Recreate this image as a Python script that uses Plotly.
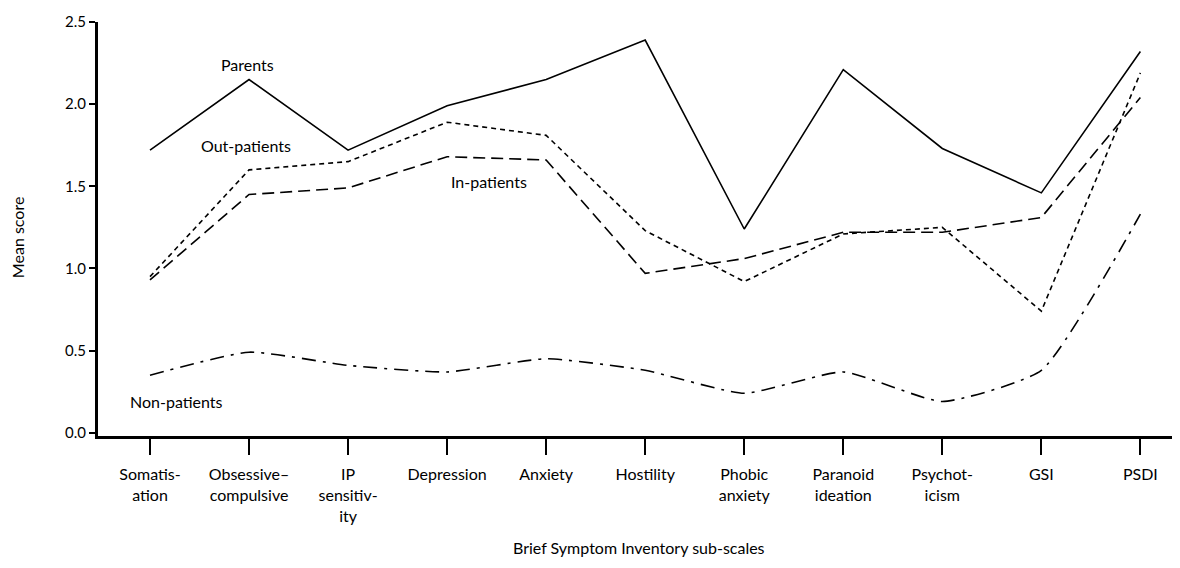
import plotly.graph_objects as go

categories = ["Somatis-<br>ation", "Obsessive–<br>compulsive", "IP<br>sensitiv-<br>ity", "Depression",
              "Anxiety", "Hostility", "Phobic<br>anxiety", "Paranoid<br>ideation", "Psychot-<br>icism",
              "GSI", "PSDI"]
parents = [1.72, 2.15, 1.72, 1.99, 2.15, 2.39, 1.24, 2.21, 1.73, 1.46, 2.32]
out_patients = [0.95, 1.60, 1.65, 1.89, 1.81, 1.23, 0.92, 1.21, 1.25, 0.74, 2.19]
in_patients = [0.93, 1.45, 1.49, 1.68, 1.66, 0.97, 1.06, 1.22, 1.22, 1.31, 2.04]
non_patients = [0.35, 0.49, 0.41, 0.37, 0.45, 0.38, 0.24, 0.37, 0.19, 0.38, 1.33]
y_ticks = [0.0, 0.5, 1.0, 1.5, 2.0, 2.5]

x = list(range(len(categories)))
FONT = "Lato"

fig = go.Figure()
fig.add_trace(go.Scatter(x=x, y=parents, mode="lines", line=dict(color="black", width=1.6)))
fig.add_trace(go.Scatter(x=x, y=out_patients, mode="lines",
                         line=dict(color="black", width=1.6, dash="5px,4px")))
fig.add_trace(go.Scatter(x=x, y=in_patients, mode="lines",
                         line=dict(color="black", width=1.6, dash="12px,6px")))
fig.add_trace(go.Scatter(x=x, y=non_patients, mode="lines", line_shape="spline",
                         line=dict(color="black", width=1.6, dash="14px,7px,3px,7px", smoothing=0.5)))

for txt, ax, ay in [("Parents", 0.98, 2.24), ("Out-patients", 0.97, 1.75),
                    ("In-patients", 3.42, 1.53), ("Non-patients", 0.27, 0.19)]:
    fig.add_annotation(x=ax, y=ay, text=txt, showarrow=False,
                       font=dict(family=FONT, size=16, color="black"))

fig.add_annotation(text="Mean score", xref="paper", yref="paper", x=-0.075, y=0.48,
                   textangle=-90, showarrow=False, xanchor="center",
                   font=dict(family=FONT, size=16, color="black"))
fig.add_annotation(text="Brief Symptom Inventory sub-scales", xref="paper", yref="paper",
                   x=0.5, y=-0.27, showarrow=False, yanchor="middle",
                   font=dict(family=FONT, size=16, color="black"))

fig.update_layout(
    width=1172, height=560,
    margin=dict(l=90, r=0, t=14, b=132),
    plot_bgcolor="white", paper_bgcolor="white",
    showlegend=False,
    font=dict(family=FONT, size=16, color="black"),
)
fig.update_xaxes(range=[-0.525, 10.4], tickmode="array", tickvals=x, ticktext=categories,
                 showline=True, linecolor="black", linewidth=3, ticks="outside",
                 ticklen=16, tickwidth=1.5, tickcolor="black", showgrid=False, zeroline=False,
                 ticklabelstandoff=6, tickfont=dict(family=FONT, size=16))
fig.update_yaxes(range=[-0.02, 2.5], tickmode="array", tickvals=y_ticks,
                 ticktext=[f"{v:.1f}" for v in y_ticks],
                 showline=True, linecolor="black", linewidth=3, ticks="outside",
                 ticklen=6, tickwidth=1.5, tickcolor="black", showgrid=False, zeroline=False,
                 tickfont=dict(family=FONT, size=15))

fig.write_html("out.html")
